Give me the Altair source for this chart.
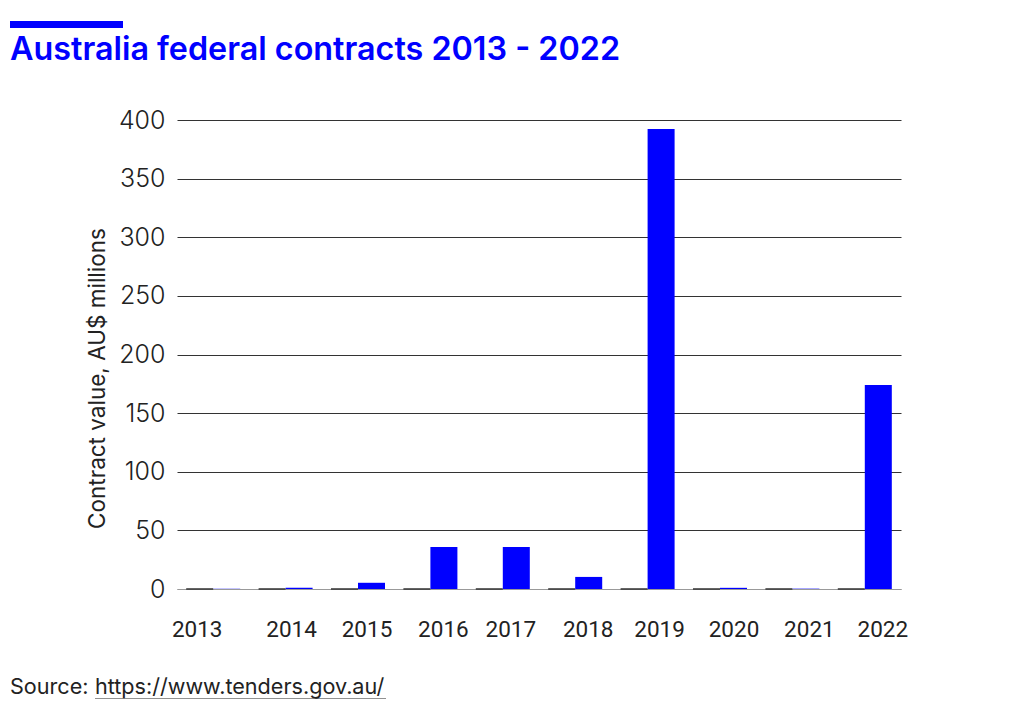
import altair as alt
import pandas as pd

years = ["2013", "2014", "2015", "2016", "2017", "2018", "2019", "2020", "2021", "2022"]
contract_values = [0.2, 1.0, 5.3, 35.8, 35.8, 10.3, 392.3, 1.0, 0.3, 174.0]
other_values = [0, 0, 0, 0, 0, 0, 0, 0, 0, 0]
series_names = ["other", "value"]
series_colors = ["#333333", "#0000ff"]
y_ticks = [0, 50, 100, 150, 200, 250, 300, 350, 400]
label_offsets = {"2013": -16, "2014": 6, "2015": 9, "2016": 13, "2017": 8,
                 "2018": 13, "2019": 12, "2020": 14, "2021": 17, "2022": 18}

title_text = "Australia federal contracts 2013 - 2022"
source_label = "Source: "
source_url = "https://www.tenders.gov.au/"
y_title = "Contract value, AU$ millions"

df = pd.DataFrame({
    "year": years * 2,
    "series": ["other"] * len(years) + ["value"] * len(years),
    "amount": other_values + contract_values,
})
one = pd.DataFrame({"k": [0]})

offset_cond = {
    "condition": [{"test": f"datum.value == '{y}'", "value": o} for y, o in label_offsets.items()],
    "value": 12,
}

bars = alt.Chart(df).mark_bar().encode(
    x=alt.X("year:N", sort=years, title=None,
            scale=alt.Scale(paddingInner=0.254, paddingOuter=0.127),
            axis=alt.Axis(labelAngle=0, ticks=False, domainColor="#999999", domainWidth=1,
                          labelFont="Roboto", labelFontSize=22.5, labelColor="#222222",
                          labelPadding=29, labelOffset=offset_cond)),
    xOffset=alt.XOffset("series:N", sort=series_names,
                        scale=alt.Scale(paddingInner=0, paddingOuter=0)),
    y=alt.Y("amount:Q", scale=alt.Scale(domain=[0, 400], nice=False),
            axis=alt.Axis(values=y_ticks, domain=False, ticks=False, title=y_title,
                          labelFont="Inter", labelFontSize=25, labelFontWeight=300,
                          labelColor="#222222", labelPadding=12,
                          gridColor={"condition": {"test": "datum.value === 0", "value": "#999999"},
                                     "value": "#333333"},
                          gridWidth=1,
                          titleFont="Inter", titleFontSize=22.5, titleFontWeight=400,
                          titleColor="#222222", titleAngle=-90, titleAlign="center",
                          titleBaseline="alphabetic", titleX=-73, titleY=258)),
    color=alt.Color("series:N", scale=alt.Scale(domain=series_names, range=series_colors), legend=None),
    stroke=alt.Stroke("series:N", scale=alt.Scale(domain=series_names, range=series_colors), legend=None),
    strokeWidth=alt.condition("datum.series == 'other'", alt.value(1.5), alt.value(0)),
)

header_bar = alt.Chart(one).mark_rect(color="#0000ff").encode(
    x=alt.value(-167), x2=alt.value(-54), y=alt.value(-99), y2=alt.value(-92))

title = alt.Chart(one).mark_text(align="left", baseline="alphabetic", font="Inter",
                                 fontSize=32.3, fontWeight=600, color="#0000ff").encode(
    x=alt.value(-167), y=alt.value(-60), text=alt.value(title_text))

source = alt.Chart(one).mark_text(align="left", baseline="alphabetic", font="Inter",
                                  fontSize=21.6, fontWeight=400, color="#222222").encode(
    x=alt.value(-167), y=alt.value(574), text=alt.value(source_label))

source_link = alt.Chart(one).mark_text(align="left", baseline="alphabetic", font="Inter",
                                       fontSize=21.6, fontWeight=400, color="#222222").encode(
    x=alt.value(-82), y=alt.value(574), text=alt.value(source_url))

underline = alt.Chart(one).mark_rule(color="#222222", strokeWidth=1).encode(
    x=alt.value(-82), x2=alt.value(209), y=alt.value(579))

chart = alt.layer(bars, header_bar, title, source, source_link, underline).properties(
    width=724, height=469, autosize="none",
    padding={"left": 169, "top": 112, "right": 90, "bottom": 110},
    background="white",
).configure_view(stroke=None)

chart.save("out.html", embed_options={"renderer": "svg", "actions": False})
